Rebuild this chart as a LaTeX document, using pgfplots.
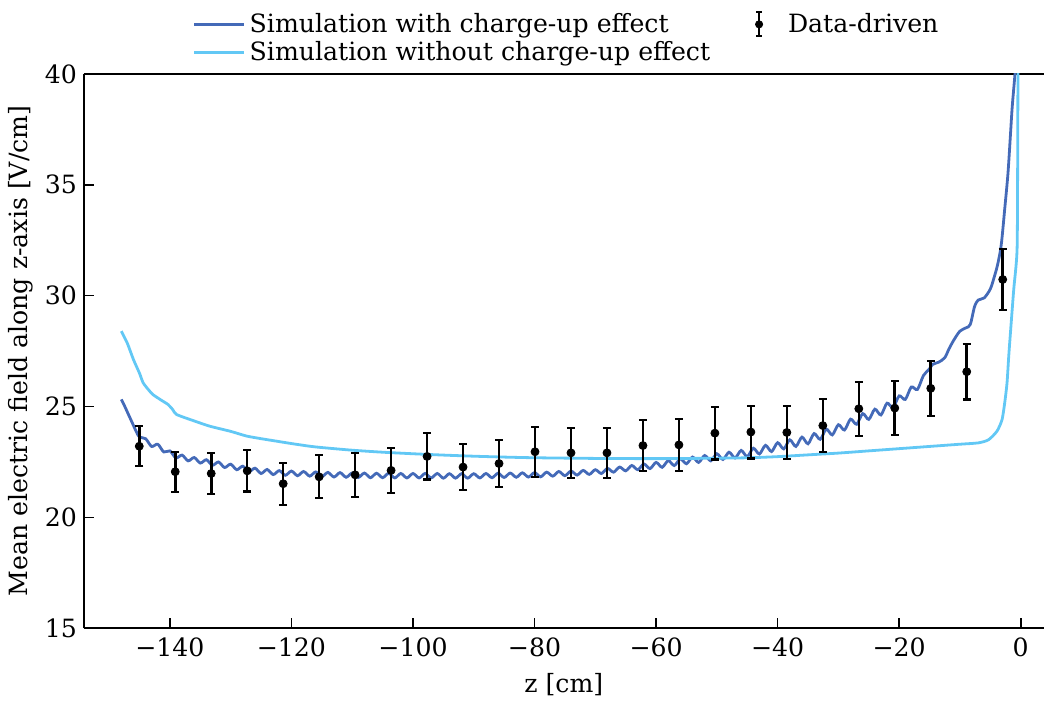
\documentclass[border=0pt]{standalone}
\usepackage{fontspec}
\setmainfont{DejaVu Serif}
\usepackage{pgfplots}
\pgfplotsset{compat=1.18}
\definecolor{darkb}{RGB}{68,106,184}
\definecolor{lightb}{RGB}{98,200,245}
\begin{document}
\begin{tikzpicture}
\begin{axis}[
  scale only axis,
  width=480.5pt, height=277.5pt,
  xmin=-154.15, xmax=3.8, ymin=15, ymax=40,
  separate axis lines,
  axis x line*=box, axis y line*=left,
  axis line style={line width=1.2pt, -},
  xtick={-140,-120,-100,-80,-60,-40,-20,0},
  xticklabels={−140,−120,−100,−80,−60,−40,−20,0},
  ytick={15,20,25,30,35,40},
  xtick pos=bottom, ytick pos=left,
  tick align=inside,
  major tick length=5pt,
  every tick/.style={black, line width=0.8pt},
  /pgf/number format/assume math mode=true,
  font=\fontsize{12.6}{15}\selectfont,
  tick label style={font=\fontsize{12.6}{15}\selectfont},
  xticklabel style={yshift=-1pt},
  xlabel={z [cm]},
  ylabel={Mean electric field along z-axis [V/cm]},
  xlabel style={yshift=-1.5pt},
  ylabel style={yshift=-1pt},
  legend columns=2,
  legend cell align=left,
  legend style={draw=none, fill=none, at={(0.504,1.0)}, anchor=south, yshift=1pt,
    font=\fontsize{12.6}{15}\selectfont,
    /tikz/every even column/.append style={column sep=10pt},
    row sep=-1pt},
  legend image code/.code={\draw[#1] (0pt,0pt) -- (25pt,0pt);},
]
% simulation with charge-up
\addplot[darkb, line width=1.4pt, smooth, tension=0.5, forget plot] coordinates {
(-148,25.32) (-147.5,25.05) (-147,24.75) (-146.5,24.45) (-146,24.15) (-145.5,23.85) (-145,23.62)
(-144,23.55) (-143,23.20) (-142,23.30) (-141,22.95) (-140,23.00) (-139,22.68) (-138,22.81)
(-137,22.55) (-136,22.70) (-135,22.45) (-134,22.60) (-133,22.35) (-132,22.50) (-131,22.25)
(-130,22.40) (-129,22.15) (-128,22.31) (-127,22.06) (-126,22.22) (-125,21.98) (-124,22.16)
(-123,21.93) (-122,22.11) (-121,21.90) (-120,22.09) (-119,21.88) (-118,22.07) (-117,21.86)
(-116,22.05) (-115,21.84) (-114,22.03) (-113,21.82) (-112,22.02) (-111,21.81) (-110,22.00)
(-109,21.80) (-108,22.00) (-107,21.79) (-106,21.99) (-105,21.79) (-104,21.99) (-103,21.78)
(-102,21.98) (-101,21.78) (-100,21.98) (-99,21.78) (-98,21.98) (-97,21.78) (-96,21.98)
(-95,21.77) (-94,21.97) (-93,21.77) (-92,21.97) (-91,21.77) (-90,21.97) (-89,21.78)
(-88,21.98) (-87,21.79) (-86,21.99) (-85,21.80) (-84,22.00) (-83,21.81) (-82,22.01)
(-81,21.82) (-80,22.02) (-79,21.83) (-78,22.04) (-77,21.86) (-76,22.07) (-75,21.88)
(-74,22.09) (-73,21.91) (-72,22.12) (-71,21.94) (-70,22.15) (-69,21.98) (-68,22.21)
(-67,22.04) (-66,22.27) (-65,22.10) (-64,22.34) (-63,22.15) (-62,22.41) (-61,22.20)
(-60,22.48) (-59,22.26) (-58,22.56) (-57,22.34) (-56,22.64) (-55,22.42) (-54,22.72)
(-53,22.48) (-52,22.79) (-51,22.55) (-50,22.87) (-49,22.61) (-48,22.94) (-47,22.68)
(-46,23.02) (-45,22.74) (-44,23.12) (-43,22.86) (-42,23.25) (-41,22.97) (-40,23.37)
(-39,23.09) (-38,23.50) (-37,23.20) (-36,23.62) (-35,23.32) (-34,23.78) (-33,23.52)
(-32,23.98) (-31,23.72) (-30,24.18) (-29,23.94) (-28,24.43) (-27,24.20) (-26,24.68)
(-25,24.42) (-24,24.88) (-23,24.62) (-22,25.15) (-21,24.95) (-20,25.48) (-19,25.32)
(-18,25.88) (-17,25.77) (-16,26.40) (-15,26.70) (-14.5,26.90) (-13.5,27.00) (-12.5,27.20)
(-11.8,27.60) (-11,28.00) (-10,28.40) (-9,28.55) (-8.3,28.70) (-7.6,29.50) (-7,29.80)
(-6,29.90) (-5,30.30) (-4.4,30.80) (-3.8,31.40) (-3.2,32.30) (-2.6,34.00) (-2.1,35.50)
(-1.7,37.20) (-1.4,38.50) (-1.0,39.80) (-0.8,40.50)
};
% simulation without charge-up
\addplot[lightb, line width=1.4pt, smooth, tension=0.4, forget plot] coordinates {
(-148,28.40) (-147,27.85) (-146,27.12) (-145,26.50) (-144.4,26.07) (-143.5,25.75) (-142.8,25.54)
(-141.5,25.30) (-140.3,25.09) (-139.5,24.85) (-138.9,24.64) (-136,24.35) (-133.4,24.11)
(-130,23.88) (-127.4,23.67) (-125,23.55) (-122.5,23.44) (-120,23.33) (-117,23.21) (-115,23.15)
(-110,23.03) (-105,22.94) (-100,22.87) (-95,22.81) (-90,22.76) (-85,22.72) (-80,22.69)
(-70,22.66) (-60,22.65) (-50,22.67) (-44.7,22.69) (-40,22.74) (-35,22.82) (-30,22.90)
(-25,23.00) (-20,23.10) (-15,23.20) (-10,23.30) (-7,23.36) (-5.3,23.50) (-3.9,23.89)
(-3.07,24.41) (-2.63,25.17) (-2.25,26.07) (-1.97,27.27) (-1.69,28.32) (-1.15,30.27)
(-0.6,32.07) (-0.5,36.00) (-0.45,40.00) (-0.4,41.00)
};
% data-driven
\addplot[black, mark=*, mark size=2pt, only marks, forget plot,
  error bars/.cd, y dir=both, y explicit,
  error bar style={line width=1.3pt, black},
  error mark=-,
  error mark options={rotate=90, line width=1.1pt, mark size=2pt, black}]
  table[x=x, y=y, y error=e] {
x y e
-145.04 23.21 0.90
-139.12 22.06 0.90
-133.20 21.98 0.92
-127.28 22.10 0.93
-121.36 21.52 0.95
-115.44 21.83 0.97
-109.52 21.92 0.99
-103.60 22.12 1.02
-97.68 22.75 1.04
-91.76 22.27 1.04
-85.84 22.43 1.06
-79.92 22.96 1.13
-74.00 22.91 1.12
-68.08 22.91 1.13
-62.16 23.24 1.16
-56.24 23.27 1.16
-50.32 23.80 1.19
-44.40 23.85 1.19
-38.48 23.83 1.20
-32.56 24.14 1.20
-26.64 24.90 1.22
-20.72 24.93 1.22
-14.80 25.82 1.23
-8.88 26.57 1.25
-2.96 30.73 1.36
};
\addlegendimage{darkb, line width=1.4pt}
\addlegendentry{Simulation with charge-up effect}
\addlegendimage{legend image code/.code={
  \path[draw=none, fill=none] (0pt,0pt) rectangle (25pt,0.1pt);
  \draw[black, line width=1.2pt] (12.5pt,-6pt) -- (12.5pt,6pt);
  \draw[black, line width=1pt] (11pt,-6pt) -- (14pt,-6pt);
  \draw[black, line width=1pt] (11pt,6pt) -- (14pt,6pt);
  \fill[black] (12.5pt,0pt) circle (1.8pt);}}
\addlegendentry{Data-driven}
\addlegendimage{lightb, line width=1.4pt}
\addlegendentry{Simulation without charge-up effect}
\end{axis}
\path (current axis.south west) ++(-42pt,-34.5pt) coordinate (bbA);
\path (current axis.north east) ++(0pt,37pt) coordinate (bbB);
\path (bbA) rectangle (bbB);
\end{tikzpicture}
\end{document}
